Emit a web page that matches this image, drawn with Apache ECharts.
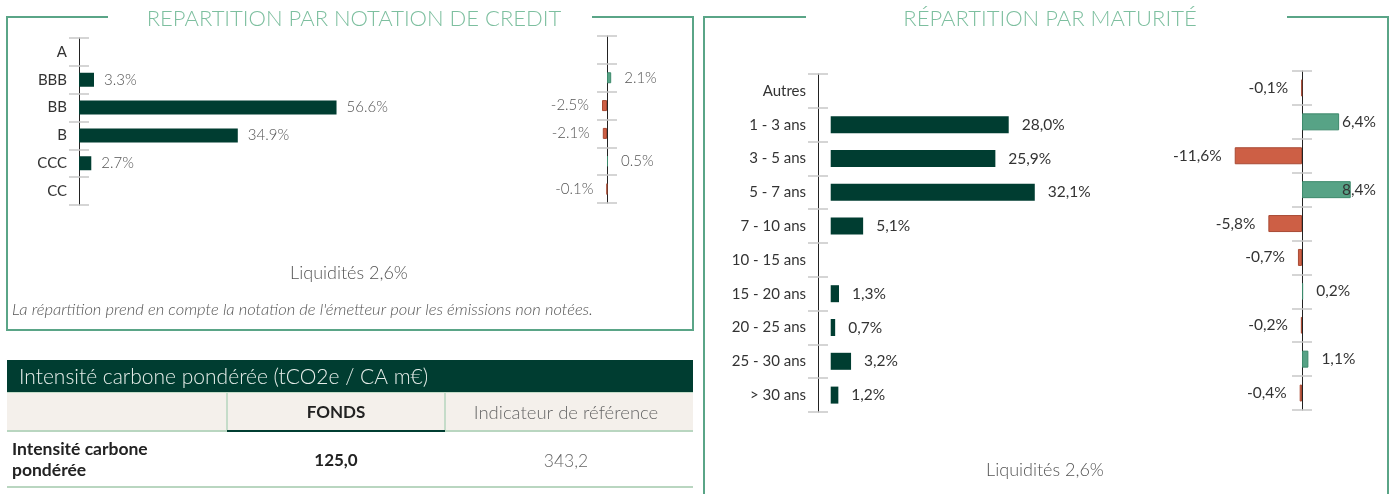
<!DOCTYPE html>
<html>
<head>
<meta charset="utf-8">
<script src="https://cdn.jsdelivr.net/npm/echarts@6/dist/echarts.min.js"></script>
<style>
	html, body { margin: 0; padding: 0; background: #fff; }
	#main { width: 1392px; height: 494px; }
</style>
</head>
<body>
<div id="main"></div>
<script>
// données
var creditCategories = ['A', 'BBB', 'BB', 'B', 'CCC', 'CC'];
var creditValues = [null, 3.3, 56.6, 34.9, 2.7, null];
var creditDelta = [null, 2.1, -2.5, -2.1, 0.5, -0.1];

var maturityCategories = ['Autres', '1 - 3 ans', '3 - 5 ans', '5 - 7 ans', '7 - 10 ans',
	'10 - 15 ans', '15 - 20 ans', '20 - 25 ans', '25 - 30 ans', '> 30 ans'];
var maturityValues = [null, 28.0, 25.9, 32.1, 5.1, null, 1.3, 0.7, 3.2, 1.2];
var maturityDelta = [-0.1, 6.4, -11.6, 8.4, -5.8, -0.7, 0.2, -0.2, 1.1, -0.4];

var liquidites = 'Liquidités 2,6%';
var tableTitle = 'Intensité carbone pondérée (tCO2e / CA m€)';
var tableHeader = ['', 'FONDS', 'Indicateur de référence'];
var tableRow = ['Intensité carbone\npondérée', '125,0', '343,2'];

var FONT = 'Lato';
var DARK = '#003d31';
var FRAME = '#5aa587';
var POS = '#57a386', NEG = '#cd5f45';

var myChart = echarts.init(document.getElementById('main'));

function fmtDot(v) { return v.toFixed(1) + '%'; }
function fmtComma(v) { return v.toFixed(1).replace('.', ',') + '%'; }

// deux axes catégorie superposés : tick dehors + tick dedans
function catAxes(gridIndex, data, showLabel) {
	var base = {
		type: 'category', gridIndex: gridIndex, data: data, inverse: true, position: 'left'
	};
	var tickStyle = { color: '#c8c8c8', width: 1.5 };
	var a = Object.assign({}, base, {
		axisLine: { show: true, onZero: false, lineStyle: { color: '#222', width: 1 } },
		axisTick: { show: true, inside: false, length: 10, interval: 0, lineStyle: tickStyle },
		axisLabel: { show: showLabel, interval: 0, margin: 12, color: '#333', fontFamily: FONT, fontSize: 15 }
	});
	var b = Object.assign({}, base, {
		axisLine: { show: false, onZero: false },
		axisTick: { show: true, inside: true, length: 10, interval: 0, lineStyle: tickStyle },
		axisLabel: { show: false }
	});
	return [a, b];
}
function hiddenCat(gridIndex, data) {
	return { type: 'category', gridIndex: gridIndex, data: data, inverse: true, show: false };
}

function deltaData(arr, bigPos) {
	return arr.map(function(v) {
		if (v === null) return null;
		var pos = v < 0 ? 'left' : 'right';
		var dist = 13;
		if (bigPos && v > 5) { pos = 'insideLeft'; dist = 40; }
		return {
			value: v,
			itemStyle: {
				color: v < 0 ? NEG : POS,
				borderColor: v < 0 ? '#a84a34' : '#3d8a6c',
				borderWidth: 1
			},
			label: { position: pos, distance: dist }
		};
	});
}

// écarts : position du zéro et échelle (px par %)
var cdZero = 607, cdScale = 2, cdMax = 10;
var mdZero = 1302, mdScale = 5.8, mdMax = 14;

var gridCommon = { outerBoundsMode: 'none', containLabel: false };

var option = {
	animation: false,
	backgroundColor: '#fff',
	textStyle: { fontFamily: FONT },
	grid: [
		Object.assign({ left: 79, top: 38, width: 273, height: 167 }, gridCommon),
		Object.assign({ left: cdZero - cdScale * cdMax, top: 36, width: 2 * cdScale * cdMax, height: 167 }, gridCommon),
		Object.assign({ left: 818, top: 74, width: 267, height: 338 }, gridCommon),
		Object.assign({ left: mdZero - mdScale * mdMax, top: 71, width: 2 * mdScale * mdMax, height: 339 }, gridCommon),
		// grilles d'axe posées sur le zéro des écarts
		Object.assign({ left: cdZero, top: 36, width: 20, height: 167 }, gridCommon),
		Object.assign({ left: mdZero, top: 71, width: 20, height: 339 }, gridCommon)
	],
	xAxis: [
		{ type: 'value', gridIndex: 0, min: 0, max: 60, show: false },
		{ type: 'value', gridIndex: 1, min: -cdMax, max: cdMax, show: false },
		{ type: 'value', gridIndex: 2, min: -2, max: 40, show: false },
		{ type: 'value', gridIndex: 3, min: -mdMax, max: mdMax, show: false },
		{ type: 'value', gridIndex: 4, min: 0, max: 1, show: false },
		{ type: 'value', gridIndex: 5, min: 0, max: 1, show: false }
	],
	yAxis: []
		.concat(catAxes(0, creditCategories, true))          // 0,1
		.concat([hiddenCat(1, creditCategories)])            // 2
		.concat(catAxes(2, maturityCategories, true))        // 3,4
		.concat([hiddenCat(3, maturityCategories)])          // 5
		.concat(catAxes(4, creditCategories, false))         // 6,7
		.concat(catAxes(5, maturityCategories, false)),      // 8,9
	series: [
		{
			type: 'bar', xAxisIndex: 0, yAxisIndex: 0, barWidth: 14,
			data: creditValues,
			itemStyle: { color: DARK },
			label: {
				show: true, position: 'right', distance: 10,
				color: '#555', fontFamily: FONT, fontWeight: 300, fontSize: 15,
				formatter: function(p) { return fmtDot(p.value); }
			}
		},
		{
			type: 'bar', xAxisIndex: 1, yAxisIndex: 2, barWidth: 11,
			data: deltaData(creditDelta, false),
			label: {
				show: true, color: '#555', fontFamily: FONT, fontWeight: 300, fontSize: 15,
				formatter: function(p) { return fmtDot(p.value); }
			}
		},
		{
			type: 'bar', xAxisIndex: 2, yAxisIndex: 3, barWidth: 17,
			data: maturityValues,
			itemStyle: { color: DARK },
			label: {
				show: true, position: 'right', distance: 13,
				color: '#333', fontFamily: FONT, fontSize: 15.5,
				formatter: function(p) { return fmtComma(p.value); }
			}
		},
		{
			type: 'bar', xAxisIndex: 3, yAxisIndex: 5, barWidth: 17,
			data: deltaData(maturityDelta, true),
			label: {
				show: true, color: '#333', fontFamily: FONT, fontSize: 15.5,
				formatter: function(p) { return fmtComma(p.value); }
			}
		}
	],
	graphic: []
};

var g = option.graphic;
function line(points, color, w) {
	g.push({ type: 'polyline', silent: true, shape: { points: points },
		style: { stroke: color, lineWidth: w, fill: null } });
}
function text(t, x, y, opts) {
	g.push({ type: 'text', silent: true, x: x, y: y,
		style: Object.assign({ text: t, fontFamily: FONT, fontSize: 14, fill: '#333',
			align: 'left', verticalAlign: 'middle' }, opts || {}) });
}
function rect(x, y, w, h, color) {
	g.push({ type: 'rect', silent: true, shape: { x: x, y: y, width: w, height: h },
		style: { fill: color } });
}

// cadres
line([[108, 17], [7, 17], [7, 330], [693, 330], [693, 17], [592, 17]], FRAME, 2);
line([[806, 17], [704, 17], [704, 500]], FRAME, 2);
line([[1287, 17], [1388, 17], [1388, 500]], FRAME, 2);

// titres
text('REPARTITION PAR NOTATION DE CREDIT', 354, 19,
	{ align: 'center', fontSize: 22, fontWeight: 300, fill: '#7dbf9f' });
text('RÉPARTITION PAR MATURITÉ', 1050, 19,
	{ align: 'center', fontSize: 22, fontWeight: 300, fill: '#7dbf9f' });

// liquidités + note
text(liquidites, 349, 273, { align: 'center', fontSize: 18, fontWeight: 300, fill: '#555' });
text(liquidites, 1045, 470, { align: 'center', fontSize: 18, fontWeight: 300, fill: '#555' });
text('La répartition prend en compte la notation de l\'émetteur pour les émissions non notées.', 12, 310,
	{ fontSize: 16.5, fontWeight: 300, fontStyle: 'italic', fill: '#555' });

// tableau
rect(7, 360, 686, 32, DARK);
text(tableTitle, 19, 377, { fontSize: 21, fontWeight: 300, fill: '#e6eeea' });
rect(7, 392, 686, 39, '#f4f0eb');
line([[7, 392.5], [693, 392.5]], '#c5dcc9', 1);
line([[227, 392], [227, 431]], '#c5dcc9', 2);
line([[445, 392], [445, 431]], '#c5dcc9', 2);
line([[7, 431], [227, 431]], '#b9d6c0', 2);
line([[227, 431], [445, 431]], DARK, 2);
line([[445, 431], [693, 431]], '#b9d6c0', 2);
line([[7, 487], [693, 487]], '#b9d6c0', 2);

text(tableHeader[1], 336, 413, { align: 'center', fontSize: 17, fontWeight: 'bold', fill: '#222' });
text(tableHeader[2], 566, 413, { align: 'center', fontSize: 18.5, fontWeight: 300, fill: '#666' });
text(tableRow[0], 12, 460, { fontSize: 17.5, fontWeight: 'bold', fill: '#222', lineHeight: 21 });
text(tableRow[1], 336, 461, { align: 'center', fontSize: 17, fontWeight: 'bold', fill: '#222' });
text(tableRow[2], 566, 461, { align: 'center', fontSize: 17.5, fontWeight: 300, fill: '#666' });

myChart.setOption(option);
</script>
</body>
</html>
